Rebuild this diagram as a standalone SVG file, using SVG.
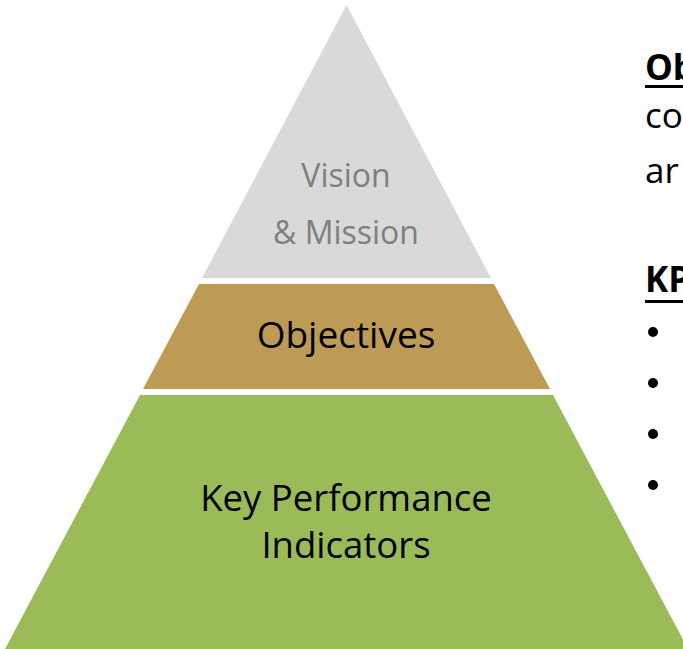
<svg xmlns="http://www.w3.org/2000/svg" width="683" height="649" viewBox="0 0 683 649">
<style>
.lbl{font-family:"Open Sans","Liberation Sans",sans-serif;text-anchor:middle;}
.side{font-family:"Open Sans","Liberation Sans",sans-serif;font-size:35px;fill:#000;}
</style>
<rect width="683" height="649" fill="#fff"/>
<g id="vision">
<polygon points="346.5,5 491,278 202,278" fill="#d9d9d9"/>
<text class="lbl" x="346" y="187" font-size="32" fill="#7f7f7f">Vision</text>
<text class="lbl" x="346" y="244" font-size="32" fill="#7f7f7f">&amp; Mission</text>
</g>
<g id="objectives">
<polygon points="199,284 494,284 550,389 143,389" fill="#be9b55"/>
<text class="lbl" x="346" y="348" font-size="37" fill="#000">Objectives</text>
</g>
<g id="kpi">
<polygon points="140,395 553,395 688,649 5,649" fill="#9bbb59"/>
<text class="lbl" x="346" y="511" font-size="36.5" fill="#000">Key Performance</text>
<text class="lbl" x="346" y="558" font-size="36.5" fill="#000">Indicators</text>
</g>
<g id="sidetext">
<text class="side" x="645" y="80" font-weight="bold">Ob</text>
<rect x="645" y="85" width="38" height="3" fill="#000"/>
<text class="side" x="645" y="128">co</text>
<text class="side" x="645" y="183">ar</text>
<text class="side" x="645" y="292" font-weight="bold">KP</text>
<rect x="645" y="300" width="38" height="3" fill="#000"/>
<circle cx="653" cy="332" r="5" fill="#000"/>
<circle cx="653" cy="383" r="5" fill="#000"/>
<circle cx="653" cy="434" r="5" fill="#000"/>
<circle cx="653" cy="485" r="5" fill="#000"/>
</g>
</svg>
